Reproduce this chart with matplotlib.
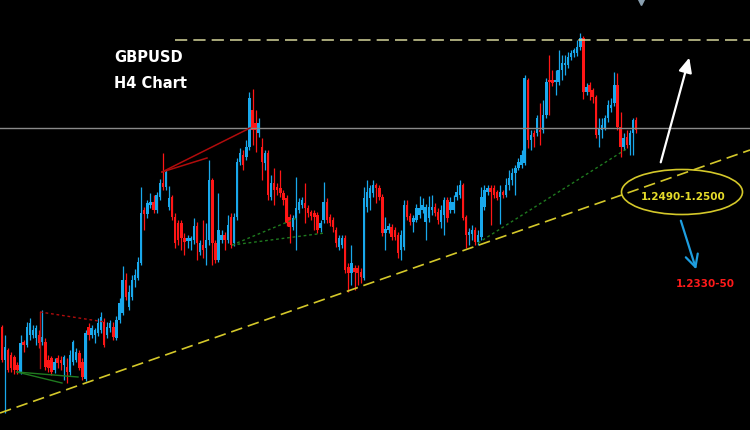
import numpy as np
import matplotlib
matplotlib.use("Agg")
import matplotlib.pyplot as plt
from matplotlib.patches import Ellipse, FancyArrowPatch

# GBPUSD H4 candles (price levels in chart units, higher = higher price)
opens = [103,70,80,75,73,65,58,88,85,95,95,92,95,88,88,70,72,60,72,70,65,63,58,68,70,77,68,51,103,95,
         95,97,100,108,95,102,103,92,110,117,150,123,133,150,152,167,220,216,225,228,220,233,247,243,223,233,213,207,207,192,
         189,189,190,204,178,185,182,190,250,187,170,190,195,190,213,187,213,268,275,273,283,320,307,297,283,267,277,233,247,243,
         242,237,232,213,203,212,220,225,227,222,218,217,215,202,210,228,213,210,200,183,185,192,163,157,162,162,158,152,223,232,
         237,245,242,233,197,200,203,200,195,180,183,225,214,208,210,215,220,208,212,220,223,218,208,215,230,220,220,233,235,245,
         213,195,196,200,188,193,223,238,242,242,238,233,238,235,245,250,257,262,265,267,350,290,297,297,300,300,315,350,350,348,
         348,360,365,365,373,377,377,383,392,338,345,340,333,295,300,302,312,322,327,345,303,283,293,285,297,310]
closes = [70,83,60,62,60,60,87,85,103,107,100,102,87,93,63,62,58,68,67,67,73,58,75,88,78,62,53,97,95,102,
          100,107,113,85,103,107,93,110,127,150,133,138,150,155,168,217,216,227,228,220,235,247,243,258,232,213,187,190,192,188,
          192,192,204,187,187,180,190,250,187,170,200,195,190,205,185,213,268,277,265,283,332,300,300,307,268,277,235,247,240,240,
          237,230,207,203,212,222,228,230,222,217,214,213,200,207,228,210,207,203,187,192,192,160,157,167,158,157,153,232,238,242,
          245,242,233,197,201,204,193,193,177,195,225,213,208,212,222,222,225,223,223,223,217,210,220,230,212,228,228,238,245,212,
          195,198,200,188,195,233,240,242,238,235,232,238,235,245,252,257,262,268,275,352,290,295,293,312,298,315,348,348,347,350,
          360,367,367,373,377,380,383,392,338,343,338,333,295,302,305,312,325,325,345,303,283,292,285,297,310,300]
highs = [105,95,82,78,75,68,95,90,108,112,105,105,100,120,92,75,74,72,75,74,75,72,80,90,82,80,72,100,107,105,
         102,112,118,112,108,110,108,114,132,164,157,145,155,161,173,243,223,230,237,235,238,251,277,260,244,235,217,210,210,197,
         195,194,212,208,190,210,207,270,252,190,237,200,198,215,217,217,272,282,280,290,338,341,320,312,292,280,280,255,262,247,
         260,240,235,216,215,253,232,233,247,225,220,220,218,210,248,232,216,213,203,195,195,195,167,185,165,165,162,243,250,245,
         250,247,245,236,213,207,206,203,198,200,230,230,217,215,226,234,232,226,234,235,227,222,225,233,233,233,235,245,250,247,
         215,202,205,203,200,243,245,245,245,245,240,245,240,252,260,262,265,272,280,355,352,300,300,315,327,330,352,375,360,360,
         380,375,375,378,380,382,390,397,394,347,348,342,335,312,312,315,330,332,358,357,318,297,300,300,312,313]
lows = [68,17,58,58,56,56,56,78,83,90,92,85,82,85,60,58,55,57,62,60,50,47,55,65,68,60,50,49,90,92,
        87,94,97,83,92,98,90,90,107,115,130,120,130,143,150,165,200,212,222,217,217,230,240,240,220,210,182,185,180,175,
        182,180,186,170,175,172,165,185,165,167,168,187,180,187,182,184,210,265,260,270,280,285,278,293,250,260,230,230,225,235,
        233,225,204,187,200,180,217,222,207,213,210,200,197,198,207,207,204,198,183,180,182,157,138,145,140,145,147,150,218,220,
        233,227,230,194,180,197,190,190,172,170,180,210,205,198,208,212,217,190,208,215,214,206,202,195,208,217,217,230,232,210,
        182,185,190,185,185,190,220,235,205,232,230,206,232,233,240,245,235,260,262,265,282,280,283,294,285,297,312,315,344,335,
        345,350,355,362,370,373,374,380,331,335,330,327,292,283,292,300,308,318,324,300,273,280,282,275,275,297]

# Price labels written on the chart
label_zone = "1.2490-1.2500"
label_target = "1.2330-50"
title_lines = ["GBPUSD", "H4 Chart"]

UP = "#19a8ec"
DOWN = "#ff1616"

W, H = 750, 430
fig = plt.figure(figsize=(W / 100, H / 100), dpi=100, facecolor="black")
ax = fig.add_axes([0, 0, 1, 1])
ax.set_facecolor("black")

n = len(closes)
x = np.arange(n)
o = np.array(opens, float)
c = np.array(closes, float)
hi = np.array(highs, float)
lo = np.array(lows, float)
up = c >= o
cols = np.where(up, UP, DOWN)

ax.vlines(x, lo, hi, colors=cols, linewidth=0.9, zorder=2)
bottoms = np.minimum(o, c)
heights = np.maximum(np.abs(c - o), 1.5)
ax.bar(x, heights, bottom=bottoms, width=0.78, color=cols, linewidth=0, zorder=3)

px_per_unit = 634 / (n - 1)
ax.set_xlim(-2 / px_per_unit, (W - 2) / px_per_unit)
ax.set_ylim(0, H)
ax.axis("off")

# Overlay in pixel coordinates for drawn analysis objects
ov = fig.add_axes([0, 0, 1, 1], facecolor="none")
ov.set_xlim(0, W)
ov.set_ylim(H, 0)
ov.axis("off")

# horizontal grey level
ov.plot([0, W], [128, 128], color="#8a8a8a", lw=1.0, zorder=1)
# top resistance dashed
ov.plot([175, W], [40, 40], color="#d6d69a", lw=1.1, ls=(0, (8, 4)), zorder=1)
# rising trend line
ov.plot([0, W], [413, 150], color="#d4c82a", lw=1.2, ls=(0, (7, 3.5)), zorder=4)

# red drawings
ov.plot([162, 250], [172, 128], color="#b00c0c", lw=1.1, zorder=4)
ov.plot([162, 207], [172, 158], color="#b00c0c", lw=1.1, zorder=4)
ov.plot([40, 105], [312, 322], color="#b00c0c", lw=1.0, ls=(0, (2, 2)), zorder=4)
ov.plot([40, 40], [312, 368], color="#b00c0c", lw=1.0, zorder=4)

# green drawings
ov.plot([17, 78], [372, 377], color="#1f7a1f", lw=1.0, zorder=4)
ov.plot([17, 62], [372, 383], color="#1f7a1f", lw=1.0, zorder=4)
ov.plot([232, 297], [245, 218], color="#1f7a1f", lw=1.0, ls=(0, (2, 2)), zorder=4)
ov.plot([232, 325], [245, 233], color="#1f7a1f", lw=1.0, ls=(0, (2, 2)), zorder=4)
ov.plot([478, 628], [243, 148], color="#1f7a1f", lw=1.0, ls=(0, (2, 2)), zorder=4)

# ellipse and zone label
ov.add_patch(Ellipse((682, 192), 121, 45, fill=False, edgecolor="#d4c82a", lw=1.2, zorder=5))
ov.text(683, 197, label_zone, color="#e6dc2a", fontsize=7.5, fontweight="bold",
        ha="center", va="center", zorder=6)

# arrows
ov.add_patch(FancyArrowPatch((660, 165), (690, 55), arrowstyle="-|>,head_length=3.5,head_width=1.6",
                             color="white", lw=1.6, mutation_scale=2.5, zorder=6))
ov.add_patch(FancyArrowPatch((680, 218), (697, 272), arrowstyle="->,head_length=3.5,head_width=1.8",
                             color="#1e9ee0", lw=1.6, mutation_scale=2.5, zorder=6))
ov.text(705, 284, label_target, color="#ff1a1a", fontsize=7.5, fontweight="bold",
        ha="center", va="center", zorder=6)

# title text
ov.text(114, 57, title_lines[0], color="white", fontsize=10.5, fontweight="bold",
        ha="left", va="center", zorder=6)
ov.text(114, 84, title_lines[1], color="white", fontsize=10.5, fontweight="bold",
        ha="left", va="center", zorder=6)

# small marker at top
ov.plot([641], [2], marker="v", color="#8aa0b0", markersize=4, zorder=6)

fig.savefig("out.png", dpi=100, facecolor="black")
